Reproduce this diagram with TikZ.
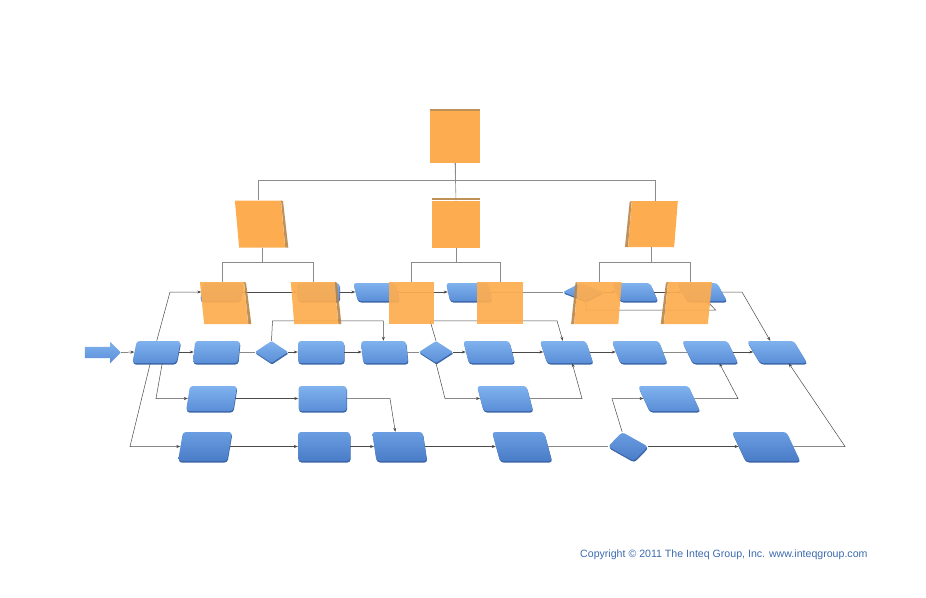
\documentclass[tikz,border=0pt]{standalone}
\usepackage{fontspec}
\newfontfamily\copyfont{Liberation Sans}
\usetikzlibrary{arrows.meta, shapes.geometric, shapes.arrows, shadows}
\definecolor{procTop}{HTML}{80B2EE}
\definecolor{procBot}{HTML}{5A8ED7}
\definecolor{procDTop}{HTML}{6A9EE2}
\definecolor{procDBot}{HTML}{4A7CC7}
\definecolor{procEdge}{HTML}{3A66A8}
\definecolor{orgFill}{HTML}{FDAD50}
\definecolor{orgSide}{HTML}{B98447}
\definecolor{orgLine}{HTML}{8C8C8C}
\definecolor{flowLine}{HTML}{4A4A4A}
\definecolor{linkLine}{HTML}{8A8A8A}
\definecolor{copyBlue}{HTML}{3B6AAE}
\tikzset{
  proc/.style      = {rectangle, rounded corners=3pt, draw=none, inner sep=0pt,
                      top color=procTop, bottom color=procBot,
                      general shadow={fill=procEdge, shadow yshift=-1.5pt,
                                      shadow xshift=.5pt}},
  procD/.style     = {proc, top color=procDTop, bottom color=procDBot},
  decision/.style  = {proc, diamond, rounded corners=1pt, aspect=1},
  startarrow/.style= {single arrow, draw=none, inner sep=5.5pt,
                      single arrow head extend=5pt, minimum height=36,
                      top color=procTop, bottom color=procBot},
  % row heights
  rowA/.style      = {minimum height=18},
  rowB/.style      = {minimum height=22},
  rowC/.style      = {minimum height=25},
  rowD/.style      = {minimum height=29},
  % organisation chart
  orgbox/.style    = {rectangle, fill=orgFill, draw=none, inner sep=0pt},
  lvlthree/.style  = {fill opacity=.93, minimum height=42},
  orgside/.style   = {fill=orgSide, fill opacity=.9},
  orgline/.style   = {draw=orgLine, line width=.6pt},
  % connectors
  flow/.style      = {-{Stealth[length=4pt,width=3pt]}, draw=flowLine, line width=.5pt},
  link/.style      = {-, draw=linkLine, line width=.6pt},
  copyright/.style = {font=\copyfont\fontsize{10.6}{12}\selectfont, text=copyBlue,
                      inner sep=0pt},
}
% orange box with a darker side strip (e, w or n)
\newcommand{\orgbox}[4]{%
  \node[orgbox, #3] (#1) at (#2) {};
  \ifx e#4\fill[orgside] (#1.north east) -- (#1.south east)
    -- ([xshift=3pt]#1.south east) -- ([xshift=2pt,yshift=-1pt]#1.north east) -- cycle;\fi
  \ifx w#4\fill[orgside] (#1.north west) -- (#1.south west)
    -- ([xshift=-3pt]#1.south west) -- ([xshift=-2pt,yshift=-1pt]#1.north west) -- cycle;\fi
  \ifx n#4\fill[orgside] (#1.north west) -- (#1.north east)
    -- ([yshift=2pt]#1.north east) -- ([yshift=2pt]#1.north west) -- cycle;\fi
}
\begin{document}
\begin{tikzpicture}[x=1pt, y=-1pt]
\useasboundingbox (0,0) rectangle (926,597);

% ===== Process row 1 (behind the org chart) =====
\node[proc, rowA, minimum width=40, xslant=.15]  (r1a) at (221.5,292) {};
\node[proc, rowA, minimum width=42]              (r1b) at (318.5,292) {};
\node[proc, rowA, minimum width=42, xslant=-.25] (r1c) at (376.5,292) {};
\node[proc, rowA, minimum width=42, xslant=-.22] (r1d) at (469,292) {};
\node[decision, minimum width=40, minimum height=18, xslant=-.3] (r1dia) at (583,292) {};
\node[proc, rowA, minimum width=38, xslant=-.44] (r1e) at (635,292) {};
\node[proc, rowA, minimum width=40, xslant=-.55] (r1f) at (702,292) {};

% ===== Main row =====
\node[startarrow] (start) at (100,352.5) {};
\node[proc, rowB, minimum width=44, xslant=.2]   (m1) at (156.5,352) {};
\node[proc, rowB, minimum width=45, xslant=.1]   (m2) at (216.5,352) {};
\node[decision, minimum width=33, minimum height=22] (d1) at (271.5,352) {};
\node[proc, rowB, minimum width=46]              (m3) at (321,352) {};
\node[proc, rowB, minimum width=45, xslant=-.1]  (m4) at (384.5,352) {};
\node[decision, minimum width=34, minimum height=22] (d2) at (436,352) {};
\node[proc, rowB, minimum width=46, xslant=-.25] (m5) at (489,352) {};
\node[proc, rowB, minimum width=46, xslant=-.33] (m6) at (566.5,352) {};
\node[proc, rowB, minimum width=47, xslant=-.38] (m7) at (639.5,352) {};
\node[proc, rowB, minimum width=45.5, xslant=-.48] (m8) at (710,352) {};
\node[proc, rowB, minimum width=47, xslant=-.6]  (m9) at (777,352) {};

% ===== Row 2 =====
\node[proc, rowC, minimum width=47, xslant=.16]   (n1) at (211.5,398.5) {};
\node[proc, rowC, minimum width=48]               (n2) at (322.5,398.5) {};
\node[proc, rowC, minimum width=49.5, xslant=-.26] (n3) at (505,398.5) {};
\node[proc, rowC, minimum width=50.5, xslant=-.46] (n4) at (669,398.5) {};

% ===== Bottom row =====
\node[procD, rowD, minimum width=49, xslant=.17]   (b1) at (205,446.5) {};
\node[procD, rowD, minimum width=52]               (b2) at (324,446.5) {};
\node[procD, rowD, minimum width=50.5, xslant=-.15] (b3) at (399.5,446.5) {};
\node[procD, rowD, minimum width=52, xslant=-.27]  (b4) at (522,446.5) {};
\node[decision, procD, diamond, minimum width=40, minimum height=29, xslant=-.4] (bd) at (628,446.5) {};
\node[procD, rowD, minimum width=54.5, xslant=-.47] (b5) at (766,446.5) {};

% ===== Connectors =====
\draw[flow] ([xshift=-2pt]m1.north) -- (170,292) -- (r1a.west);
\draw[flow] (r1a.east) -- (r1b.west);
\draw[flow] (r1b.east) -- (r1c.west);
\draw[flow] (r1c.east) -- (r1d.west);
\draw[link] (r1d.east) -- (r1dia.west);
\draw[flow] (r1dia.east) -- (r1e.west);
\draw[flow] (r1e.east) -- (r1f.west);
\draw[flow] (r1dia.south) -- ++(1,9) -- ++(129,0) -- (r1f.south);
\draw[flow] (r1f.east) -- (742,292) -- (m9.north);

\draw[flow] (start.tip) -- (m1.west);
\draw[flow] (m1.east) -- (m2.west);
\draw[link] (m2.east) -- (d1.west);
\draw[flow] (d1.east) -- (m3.west);
\draw[flow] (m3.east) -- (m4.west);
\draw[link] (m4.east) -- (d2.west);
\draw[flow] (d2.east) -- (m5.west);
\draw[flow] (m5.east) -- (m6.west);
\draw[flow] (m6.east) -- (m7.west);
\draw[link] (m7.east) -- (m8.west);
\draw[flow] (m8.east) -- (m9.west);
\draw[flow] (d1.north) -- ++(1,-20) -| (m4.north);
\draw[flow] (d2.north) -- ++(-6,-20) -- ++(127,0) -- (m6.north);

\draw[flow] ([xshift=8pt]m1.south) -- (156,398.5) -- (n1.west);
\draw[flow] (n1.east) -- (n2.west);
\draw[flow] (n2.east) -- (390,398.5) -- ([xshift=-2pt]b3.north);
\draw[flow] (d2.south) -- (445,398.5) -- (n3.west);
\draw[flow] (n3.east) -- (582,398.5) -- ([xshift=2pt]m6.south);
\draw[flow] (bd.north) -- (612,398.5) -- (n4.west);
\draw[flow] (n4.east) -- (738,398.5) -- ([xshift=4pt]m8.south);

\draw[flow] ([xshift=-4pt]m1.south) -- (130,446.5) -- (b1.west);
\draw[flow] (b1.east) -- (b2.west);
\draw[flow] (b2.east) -- (b3.west);
\draw[flow] (b3.east) -- (b4.west);
\draw[link] (b4.east) -- (bd.west);
\draw[flow] (bd.east) -- (b5.west);
\draw[flow] (b5.east) -- (845,446.5) -- ([xshift=5pt]m9.south);

% ===== Org chart =====
\orgbox{o1}{224,303}{lvlthree, minimum width=44, xslant=-.1}{e}
\orgbox{o2}{314.5,303}{lvlthree, minimum width=44, xslant=-.08}{e}
\orgbox{o3}{411,303}{lvlthree, minimum width=45}{x}
\orgbox{o4}{500,303}{lvlthree, minimum width=46}{x}
\orgbox{o5}{598,303}{lvlthree, minimum width=44, xslant=.08}{w}
\orgbox{o6}{688,303}{lvlthree, minimum width=44, xslant=.1}{w}

\orgbox{top}{455,137}{minimum width=50, minimum height=52}{n}
\orgbox{mgrL}{260,224}{minimum width=46, minimum height=47, xslant=-.09}{e}
\orgbox{mgrM}{456,224}{minimum width=48, minimum height=47}{n}
\orgbox{mgrR}{653,224}{minimum width=46, minimum height=46, xslant=.08}{w}

\draw[orgline] (top.south) -- ++(0,17) -| (mgrL.north);
\draw[orgline] (top.south) -- ++(0,17) -| (mgrR.north);
\draw[orgline] (top.south) -- (mgrM.north);
\draw[orgline] (mgrL.south) -- ++(0,15) -| (o1.north);
\draw[orgline] (mgrL.south) -- ++(0,15) -| (o2.north);
\draw[orgline] (mgrM.south) -- ++(0,15) -| (o3.north);
\draw[orgline] (mgrM.south) -- ++(0,15) -| (o4.north);
\draw[orgline] (mgrR.south) -- ++(0,15) -| (o5.north);
\draw[orgline] (mgrR.south) -- ++(0,15) -| (o6.north);

\node[copyright, anchor=west] (copy) at (580,555)
  {Copyright © 2011 The Inteq Group, Inc. www.inteqgroup.com};

\end{tikzpicture}
\end{document}
